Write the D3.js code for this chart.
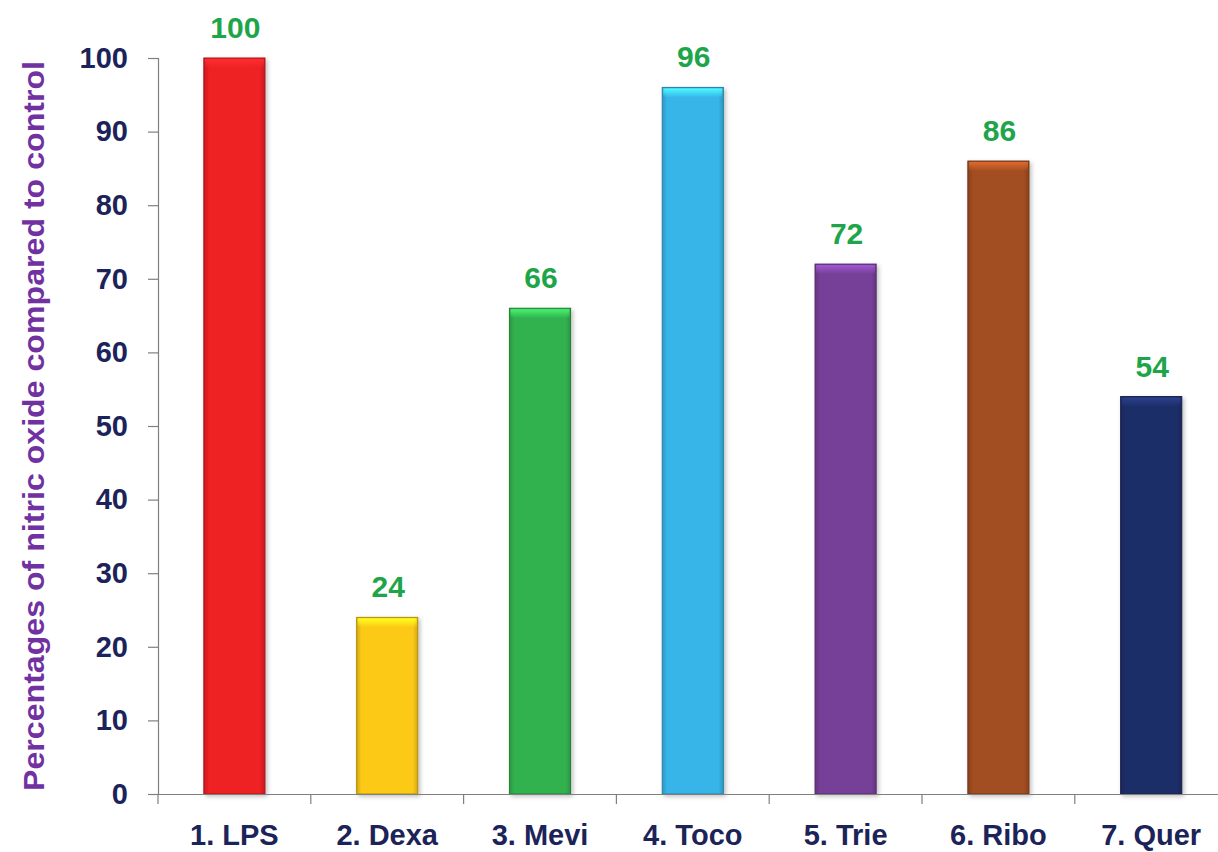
<!DOCTYPE html>
<html>
<head>
<meta charset="utf-8">
<script src="https://cdn.jsdelivr.net/npm/d3@7"></script>
<style>
  html, body { margin: 0; padding: 0; background: #fff; }
  svg { display: block; }
  text { font-family: Arial, "Liberation Sans", sans-serif; font-weight: bold; }
</style>
</head>
<body>
<svg id="chart" width="1218" height="852"></svg>
<script>
// Nitric oxide relative to control, per treatment
const categories = ["1. LPS", "2. Dexa", "3. Mevi", "4. Toco", "5. Trie", "6. Ribo", "7. Quer"];
const values = [100, 24, 66, 96, 72, 86, 54];
const barColors = ["#ee2024", "#fcca14", "#33b150", "#37b5e8", "#763f98", "#a24d21", "#1f2e68"];
const yTicks = [0, 10, 20, 30, 40, 50, 60, 70, 80, 90, 100];
const yTitle = "Percentages of nitric oxide compared to control";

const svg = d3.select("#chart");
const margin = { left: 158, top: 58, bottom: 58 };
const height = 852;
const bandStep = 152.8;
const fontStack = "Arial, 'Liberation Sans', sans-serif";

const x = d3.scaleBand()
  .domain(categories)
  .range([margin.left, margin.left + bandStep * categories.length])
  .paddingInner(0.6)
  .paddingOuter(0.3);

const y = d3.scaleLinear().domain([0, 100]).range([height - margin.bottom, margin.top]);

const defs = svg.append("defs");

// Per-bar bevel gradients: lighter top cap, darker edges
barColors.forEach((c, i) => {
  const base = d3.color(c);
  const h = defs.append("linearGradient").attr("id", "side" + i)
    .attr("x1", 0).attr("x2", 1).attr("y1", 0).attr("y2", 0);
  h.append("stop").attr("offset", "0%").attr("stop-color", base.darker(0.5));
  h.append("stop").attr("offset", "8%").attr("stop-color", base);
  h.append("stop").attr("offset", "92%").attr("stop-color", base);
  h.append("stop").attr("offset", "100%").attr("stop-color", base.darker(0.5));

  const t = defs.append("linearGradient").attr("id", "cap" + i)
    .attr("x1", 0).attr("x2", 0).attr("y1", 0).attr("y2", 1);
  t.append("stop").attr("offset", "0%").attr("stop-color", base.brighter(0.9));
  t.append("stop").attr("offset", "100%").attr("stop-color", base.brighter(0.9)).attr("stop-opacity", 0);
});

const shadow = defs.append("filter").attr("id", "shadow")
  .attr("x", "-20%").attr("y", "-5%").attr("width", "140%").attr("height", "115%");
shadow.append("feDropShadow").attr("dx", 2).attr("dy", 2).attr("stdDeviation", 2)
  .attr("flood-color", "#000").attr("flood-opacity", 0.25);

// Bars
const bars = svg.append("g").selectAll("g").data(values).join("g");

bars.append("rect")
  .attr("x", (d, i) => x(categories[i]))
  .attr("y", d => y(d))
  .attr("width", x.bandwidth())
  .attr("height", d => y(0) - y(d))
  .attr("fill", (d, i) => `url(#side${i})`)
  .attr("stroke", (d, i) => d3.color(barColors[i]).darker(1))
  .attr("stroke-width", 1)
  .attr("filter", "url(#shadow)");

bars.append("rect")
  .attr("x", (d, i) => x(categories[i]) + 1)
  .attr("y", d => y(d) + 1)
  .attr("width", x.bandwidth() - 2)
  .attr("height", 9)
  .attr("fill", (d, i) => `url(#cap${i})`);

// Value labels
svg.append("g").selectAll("text").data(values).join("text")
  .attr("x", (d, i) => x(categories[i]) + x.bandwidth() / 2 + 1)
  .attr("y", d => y(d) - 20)
  .attr("text-anchor", "middle")
  .attr("fill", "#1ea54a")
  .attr("font-size", 30)
  .text(d => d);

// Y axis
const yAxis = svg.append("g")
  .attr("transform", `translate(${margin.left},0)`)
  .call(d3.axisLeft(y).tickValues(yTicks).tickSize(10).tickPadding(20));
yAxis.select(".domain").attr("stroke", "#7f7f7f").attr("stroke-width", 1.2);
yAxis.selectAll(".tick line").attr("stroke", "#7f7f7f").attr("stroke-width", 1.2);
yAxis.selectAll(".tick text")
  .attr("fill", "#1c2358")
  .attr("font-size", 29)
  .attr("font-family", fontStack)
  .attr("font-weight", "bold");

// X axis
const xAxis = svg.append("g")
  .attr("transform", `translate(0,${y(0)})`)
  .call(d3.axisBottom(x).tickSize(0).tickPadding(30));
xAxis.select(".domain").attr("stroke", "#7f7f7f").attr("stroke-width", 1.2)
  .attr("d", `M${margin.left - 10},0.5H1218`);
xAxis.selectAll(".tick text")
  .attr("fill", "#1c2358")
  .attr("font-size", 29)
  .attr("font-family", fontStack)
  .attr("font-weight", "bold");

// Category boundary ticks
const bounds = d3.range(categories.length + 1).map(i => margin.left + i * bandStep);
svg.append("g").selectAll("line").data(bounds).join("line")
  .attr("x1", d => d).attr("x2", d => d)
  .attr("y1", y(0)).attr("y2", y(0) + 10)
  .attr("stroke", "#7f7f7f").attr("stroke-width", 1.2);

// Y axis title
svg.append("text")
  .attr("transform", `translate(44,${(y(0) + y(100)) / 2}) rotate(-90)`)
  .attr("text-anchor", "middle")
  .attr("fill", "#7131a1")
  .attr("font-size", 29)
  .attr("textLength", 730)
  .attr("lengthAdjust", "spacingAndGlyphs")
  .text(yTitle);
</script>
</body>
</html>
